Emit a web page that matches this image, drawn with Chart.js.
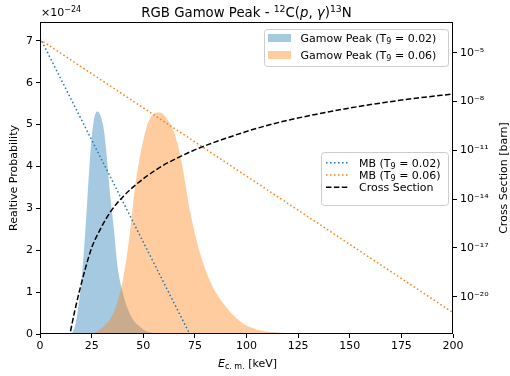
<!DOCTYPE html>
<html lang="en">
<head>
<meta charset="UTF-8">
<title>RGB Gamow Peak</title>
<style>
    body { margin: 0; background: #fff; }
    #wrap { width: 510px; height: 376px; position: relative; }
</style>
</head>
<body>
<div id="wrap"><canvas id="gamowChart"></canvas></div>
<script src="https://cdn.jsdelivr.net/npm/chart.js"></script>
<script>
// Gamow peak T9 = 0.02 (relative probability, x 1e-24)
const gamowE02 = [14, 16, 17, 18, 19, 20, 21, 22, 23, 24, 25, 26, 27, 28, 29, 30, 31, 32, 33, 34, 35, 36, 37, 38, 39, 40, 41, 42, 44, 46, 48, 50, 52, 55, 60];
const gamowP02 = [0, 0.06, 0.2, 0.45, 0.81, 1.25, 1.8, 2.5, 3.28, 4.05, 4.68, 5.08, 5.28, 5.31, 5.25, 5.1, 4.85, 4.42, 3.85, 3.3, 2.85, 2.4, 1.85, 1.45, 1.2, 1.0, 0.82, 0.66, 0.43, 0.28, 0.19, 0.11, 0.06, 0.02, 0];

// Gamow peak T9 = 0.06
const gamowE06 = [24, 26, 28, 30, 32, 34, 36, 38, 40, 42, 44, 46, 48, 50, 52, 54, 56, 58, 60, 62, 64, 66, 68, 70, 72, 74, 76, 78, 80, 82, 85, 88, 90, 93, 96, 100, 105, 110, 115, 120, 125, 130, 135];
const gamowP06 = [0, 0.02, 0.07, 0.15, 0.24, 0.36, 0.55, 0.85, 1.25, 1.85, 2.6, 3.5, 4.12, 4.62, 5.0, 5.2, 5.28, 5.29, 5.23, 5.1, 4.93, 4.65, 4.25, 3.7, 3.1, 2.62, 2.2, 1.85, 1.55, 1.3, 1.0, 0.78, 0.65, 0.48, 0.34, 0.2, 0.11, 0.06, 0.035, 0.02, 0.01, 0.005, 0];

// Maxwell-Boltzmann lines (right axis, straight on log scale)
const mbE02 = [0, 72.5];
const mbV02 = [8.5e-5, 5.1e-23];
const mbE06 = [0, 200];
const mbV06 = [6.5e-5, 1.05e-21];

// cross section [barn]
const csE = [14, 14.5, 17, 19.4, 22, 25, 29, 34, 40, 47, 58, 66, 74, 82, 90, 103, 120, 134, 150, 166, 183, 200];
const csV = [2.5e-23, 5.1e-23, 1.66e-21, 3.16e-20, 5.6e-19, 1.0e-17, 1.26e-16, 1.58e-15, 1.32e-14, 8.9e-14, 8.9e-13, 3.16e-12, 9.5e-12, 2.4e-11, 5.5e-11, 1.9e-10, 7.1e-10, 1.66e-9, 4.0e-9, 8.5e-9, 1.66e-8, 2.9e-8];

const xTicks = [0, 25, 50, 75, 100, 125, 150, 175, 200];
const leftTicks = [0, 1, 2, 3, 4, 5, 6, 7];
const rightTicks = [1e-5, 1e-8, 1e-11, 1e-14, 1e-17, 1e-20];

const FONT = "'DejaVu Sans', sans-serif";
const BLUE = '#1f77b4';
const ORANGE = '#ff7f0e';

function pts(xs, ys) {
    return xs.map((x, i) => ({ x: x, y: ys[i] }));
}

function sup(str) {
    const map = { '-': '\u207b', '0': '\u2070', '1': '\u00b9', '2': '\u00b2', '3': '\u00b3', '4': '\u2074', '5': '\u2075', '6': '\u2076', '7': '\u2077', '8': '\u2078', '9': '\u2079' };
    return str.split('').map(c => map[c] || c).join('');
}

// draws text pieces with different size / style / offset
function richText(ctx, parts, x, y, align) {
    let w = 0;
    parts.forEach(p => {
        ctx.font = (p.i ? 'italic ' : '') + p.s + 'px ' + FONT;
        p.w = ctx.measureText(p.t).width;
        w += p.w;
    });
    let cx = align === 'center' ? x - w / 2 : x;
    ctx.textAlign = 'left';
    parts.forEach(p => {
        ctx.font = (p.i ? 'italic ' : '') + p.s + 'px ' + FONT;
        ctx.fillText(p.t, cx, y + (p.dy || 0));
        cx += p.w;
    });
}

function legendBox(ctx, x, y, w, h) {
    ctx.save();
    ctx.beginPath();
    ctx.roundRect(x, y, w, h, 3);
    ctx.fillStyle = 'rgba(255,255,255,0.8)';
    ctx.fill();
    ctx.strokeStyle = '#cccccc';
    ctx.lineWidth = 1;
    ctx.stroke();
    ctx.restore();
}

function tLabel(temp) {
    return [
        { t: 'Gamow Peak (T', s: 11 },
        { t: '9', s: 8, dy: 2 },
        { t: ' = ' + temp + ')', s: 11 }
    ];
}

function mbLabel(temp) {
    return [
        { t: 'MB (T', s: 11 },
        { t: '9', s: 8, dy: 2 },
        { t: ' = ' + temp + ')', s: 11 }
    ];
}

const decorations = {
    id: 'decorations',
    afterDraw(chart) {
        const ctx = chart.ctx;
        const a = chart.chartArea;
        ctx.save();

        // frame
        ctx.strokeStyle = '#000';
        ctx.lineWidth = 1;
        ctx.strokeRect(a.left + 0.5, a.top + 0.5, a.right - a.left - 1, a.bottom - a.top - 1);

        ctx.fillStyle = '#000';
        ctx.textBaseline = 'alphabetic';

        // title
        richText(ctx, [
            { t: 'RGB Gamow Peak - ', s: 13.3 },
            { t: '12', s: 9.3, dy: -5 },
            { t: 'C(', s: 13.3 },
            { t: 'p', s: 13.3, i: true },
            { t: ', ', s: 13.3 },
            { t: '\u03b3', s: 13.3, i: true },
            { t: ')', s: 13.3 },
            { t: '13', s: 9.3, dy: -5 },
            { t: 'N', s: 13.3 }
        ], (a.left + a.right) / 2, 17, 'center');

        // offset text
        richText(ctx, [
            { t: '\u00d710', s: 11 },
            { t: '\u221224', s: 8, dy: -4 }
        ], a.left + 1, 16, 'left');

        // x label
        richText(ctx, [
            { t: 'E', s: 11, i: true },
            { t: 'c. m.', s: 8, dy: 2 },
            { t: ' [keV]', s: 11 }
        ], (a.left + a.right) / 2 + 1, 367, 'center');

        // y labels
        ctx.font = '11px ' + FONT;
        ctx.textAlign = 'center';
        ctx.save();
        ctx.translate(17, (a.top + a.bottom) / 2);
        ctx.rotate(-Math.PI / 2);
        ctx.fillText('Realtive Probability', 0, 0);
        ctx.restore();
        ctx.save();
        ctx.translate(507, (a.top + a.bottom) / 2);
        ctx.rotate(-Math.PI / 2);
        ctx.fillText('Cross Section [barn]', 0, 0);
        ctx.restore();

        // legend for the fills
        legendBox(ctx, 264.5, 29.5, 184, 37);
        ctx.fillStyle = 'rgba(31,119,180,0.4)';
        ctx.fillRect(268, 34, 23, 8);
        ctx.fillStyle = 'rgba(255,127,14,0.4)';
        ctx.fillRect(268, 51, 23, 8);
        ctx.fillStyle = '#000';
        richText(ctx, tLabel('0.02'), 300.5, 42, 'left');
        richText(ctx, tLabel('0.06'), 300.5, 59, 'left');

        // legend for the lines
        legendBox(ctx, 321.5, 152.5, 127, 53);
        const rows = [
            { c: BLUE, d: [1.5, 2.5], y: 162.7 },
            { c: ORANGE, d: [1.5, 2.5], y: 175 },
            { c: '#000', d: [5.5, 2.4], y: 187.3 }
        ];
        rows.forEach(r => {
            ctx.save();
            ctx.strokeStyle = r.c;
            ctx.lineWidth = 1.5;
            ctx.setLineDash(r.d);
            ctx.beginPath();
            ctx.moveTo(326, r.y);
            ctx.lineTo(348, r.y);
            ctx.stroke();
            ctx.restore();
        });
        ctx.fillStyle = '#000';
        richText(ctx, mbLabel('0.02'), 359, 166.7, 'left');
        richText(ctx, mbLabel('0.06'), 359, 179, 'left');
        richText(ctx, [{ t: 'Cross Section', s: 11 }], 359, 191.3, 'left');

        ctx.restore();
    }
};

const tickGrid = { display: true, drawOnChartArea: false, drawTicks: true, tickLength: 4, color: '#000', lineWidth: 1 };

new Chart(document.getElementById('gamowChart').getContext('2d'), {
    type: 'scatter',
    data: {
        datasets: [
            {
                label: 'Gamow Peak (T9 = 0.02)',
                data: pts(gamowE02, gamowP02),
                yAxisID: 'yProb',
                showLine: true,
                fill: 'origin',
                backgroundColor: 'rgba(31,119,180,0.4)',
                borderWidth: 0,
                pointRadius: 0,
                cubicInterpolationMode: 'monotone',
                order: 5
            },
            {
                label: 'Gamow Peak (T9 = 0.06)',
                data: pts(gamowE06, gamowP06),
                yAxisID: 'yProb',
                showLine: true,
                fill: 'origin',
                backgroundColor: 'rgba(255,127,14,0.4)',
                borderWidth: 0,
                pointRadius: 0,
                cubicInterpolationMode: 'monotone',
                order: 4
            },
            {
                label: 'MB (T9 = 0.02)',
                data: pts(mbE02, mbV02),
                yAxisID: 'ySigma',
                showLine: true,
                fill: false,
                borderColor: BLUE,
                borderWidth: 1.5,
                borderDash: [1.5, 2.5],
                pointRadius: 0,
                order: 3
            },
            {
                label: 'MB (T9 = 0.06)',
                data: pts(mbE06, mbV06),
                yAxisID: 'ySigma',
                showLine: true,
                fill: false,
                borderColor: ORANGE,
                borderWidth: 1.5,
                borderDash: [1.5, 2.5],
                pointRadius: 0,
                order: 2
            },
            {
                label: 'Cross Section',
                data: pts(csE, csV),
                yAxisID: 'ySigma',
                showLine: true,
                fill: false,
                borderColor: '#000',
                borderWidth: 1.5,
                borderDash: [5.5, 2.4],
                pointRadius: 0,
                cubicInterpolationMode: 'monotone',
                order: 1
            }
        ]
    },
    options: {
        responsive: true,
        maintainAspectRatio: false,
        animation: false,
        devicePixelRatio: 1,
        layout: { padding: { top: 22, left: 0, right: 0, bottom: 0 } },
        plugins: {
            legend: { display: false },
            title: { display: false },
            tooltip: { enabled: false }
        },
        scales: {
            x: {
                type: 'linear',
                min: 0,
                max: 200,
                border: { display: false },
                grid: tickGrid,
                afterBuildTicks: s => { s.ticks = xTicks.map(v => ({ value: v })); },
                afterFit: s => { s.height = 42; },
                ticks: { color: '#000', padding: 2, maxRotation: 0, font: { family: FONT, size: 11 } }
            },
            yProb: {
                type: 'linear',
                position: 'left',
                min: 0,
                max: 7.45,
                border: { display: false },
                grid: tickGrid,
                afterBuildTicks: s => { s.ticks = leftTicks.map(v => ({ value: v })); },
                afterFit: s => { s.width = 40; },
                ticks: { color: '#000', padding: 3, font: { family: FONT, size: 11 }, callback: v => String(v) }
            },
            ySigma: {
                type: 'logarithmic',
                position: 'right',
                min: 5.1e-23,
                max: 7.8e-4,
                border: { display: false },
                grid: tickGrid,
                afterBuildTicks: s => { s.ticks = rightTicks.map(v => ({ value: v })); },
                afterFit: s => { s.width = 57; },
                ticks: {
                    color: '#000',
                    padding: 3,
                    font: { family: FONT, size: 11 },
                    callback: v => '10' + sup(String(Math.round(Math.log10(v))))
                }
            }
        }
    },
    plugins: [decorations]
});
</script>
</body>
</html>
